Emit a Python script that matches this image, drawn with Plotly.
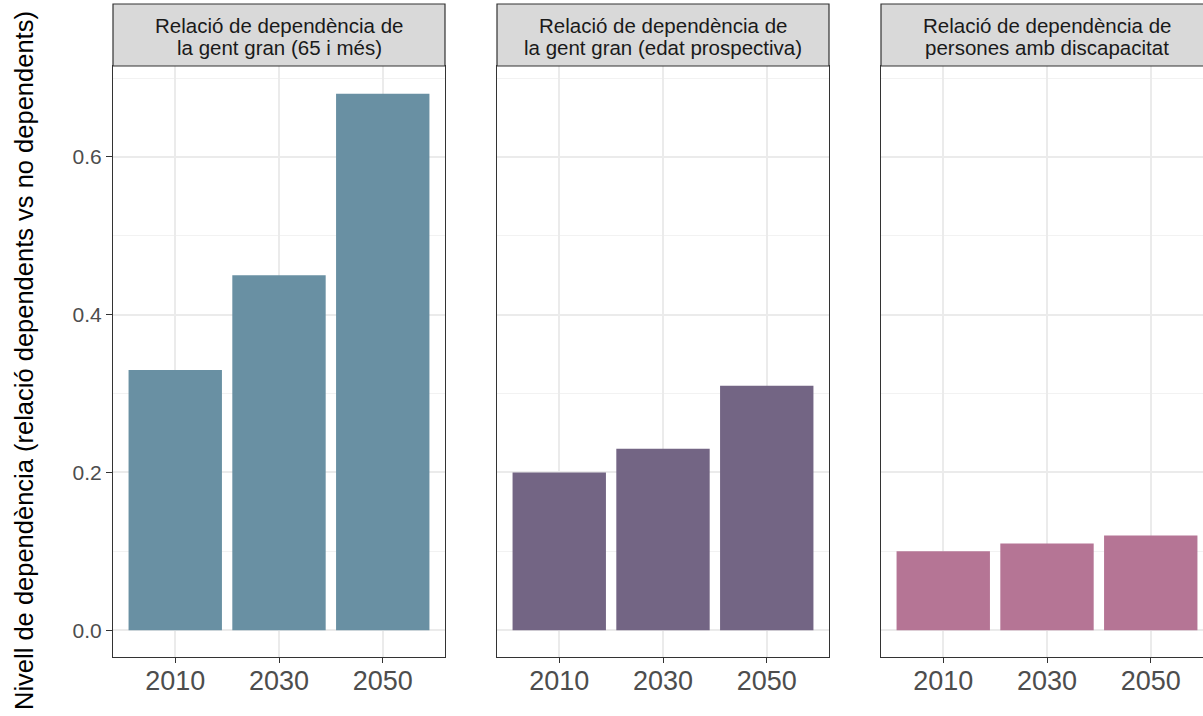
import plotly.graph_objects as go

years = ["2010", "2030", "2050"]
panel_titles = [
    ["Relació de dependència de", "la gent gran (65 i més)"],
    ["Relació de dependència de", "la gent gran (edat prospectiva)"],
    ["Relació de dependència de", "persones amb discapacitat"],
]
vals_gent_gran = [0.33, 0.45, 0.68]
vals_prospectiva = [0.20, 0.23, 0.31]
vals_discapacitat = [0.10, 0.11, 0.12]
colors = ["#6990A3", "#736584", "#B57595"]
y_title = "Nivell de dependència (relació dependents vs no dependents)"
y_ticks = [0.0, 0.2, 0.4, 0.6]

W, H = 1203, 716
FONT = "Liberation Sans, Arial, sans-serif"

# pixel geometry of panels
panel_left = [113, 497, 881]
panel_w = 332
panel_top, panel_bot = 66, 657
strip_top = 4
strip_line_y = [26, 47]

series = [vals_gent_gran, vals_prospectiva, vals_discapacitat]
fig = go.Figure()
for i, vals in enumerate(series):
    sfx = "" if i == 0 else str(i + 1)
    fig.add_trace(go.Bar(
        x=years, y=vals, marker=dict(color=colors[i], line=dict(width=0)),
        xaxis="x" + sfx, yaxis="y" + sfx, showlegend=False,
    ))

yrange = [-0.034, 0.7153]
ydom = [(H - panel_bot) / H, (H - panel_top) / H]
px_per_unit = panel_w / 3.2
layout = dict(
    width=W, height=H, margin=dict(l=0, r=0, t=0, b=0),
    paper_bgcolor="white", plot_bgcolor="white",
    bargap=0.1, font=dict(family=FONT),
)
shapes = []
annotations = []
for i in range(3):
    sfx = "" if i == 0 else str(i + 1)
    x0 = panel_left[i] / W
    x1 = min(panel_left[i] + panel_w, W) / W
    visible_w = min(panel_left[i] + panel_w, W) - panel_left[i]
    xr = [-0.6, -0.6 + visible_w / px_per_unit]
    layout["xaxis" + sfx] = dict(
        domain=[x0, x1], range=xr, type="category", anchor="y" + sfx,
        showgrid=True, gridcolor="#EBEBEB", gridwidth=1.6,
        showline=True, linecolor="#333333", linewidth=1.2, mirror=True,
        ticks="outside", ticklen=5, tickcolor="#333333", tickwidth=1.2,
        ticklabelstandoff=-6,
        tickfont=dict(size=27, color="#4D4D4D", family=FONT),
        zeroline=False, fixedrange=True,
    )
    ya = dict(
        domain=ydom, range=yrange, anchor="x" + sfx,
        showgrid=True, gridcolor="#EBEBEB", gridwidth=1.6,
        tickvals=y_ticks,
        minor=dict(tickvals=[0.1, 0.3, 0.5, 0.7], showgrid=True,
                   gridcolor="#F2F2F2", gridwidth=0.9, ticks=""),
        showline=True, linecolor="#333333", linewidth=1.2,
        mirror=(i < 2), zeroline=False, fixedrange=True,
    )
    if i == 0:
        ya.update(ticks="outside", ticklen=6, tickcolor="#333333", tickwidth=1.2,
                  tickformat=".1f", tickfont=dict(size=21, color="#4D4D4D", family=FONT))
    else:
        ya.update(showticklabels=False, ticks="")
    layout["yaxis" + sfx] = ya
    # strip
    sx0 = panel_left[i] / W
    sx1 = (panel_left[i] + panel_w) / W
    shapes.append(dict(type="rect", xref="paper", yref="paper",
                       x0=sx0, x1=sx1, y0=(H - panel_top) / H, y1=(H - strip_top) / H,
                       fillcolor="#D9D9D9", line=dict(color="#333333", width=1.2)))
    for line_txt, ly in zip(panel_titles[i], strip_line_y):
        annotations.append(dict(text=line_txt, xref="paper", yref="paper",
                                x=(sx0 + sx1) / 2, y=(H - ly) / H,
                                xanchor="center", yanchor="middle", showarrow=False,
                                font=dict(size=20.5, color="#1A1A1A", family=FONT)))

annotations.append(dict(text=y_title, xref="paper", yref="paper",
                        x=24 / W, y=(H - 361) / H, textangle=-90,
                        xanchor="center", yanchor="middle", showarrow=False,
                        font=dict(size=25.5, color="#000000", family=FONT)))
layout["shapes"] = shapes
layout["annotations"] = annotations
fig.update_layout(**layout)
fig.write_html("out.html", config={"displayModeBar": False},
               post_script="document.body.style.margin='0';document.body.style.overflow='hidden';")
